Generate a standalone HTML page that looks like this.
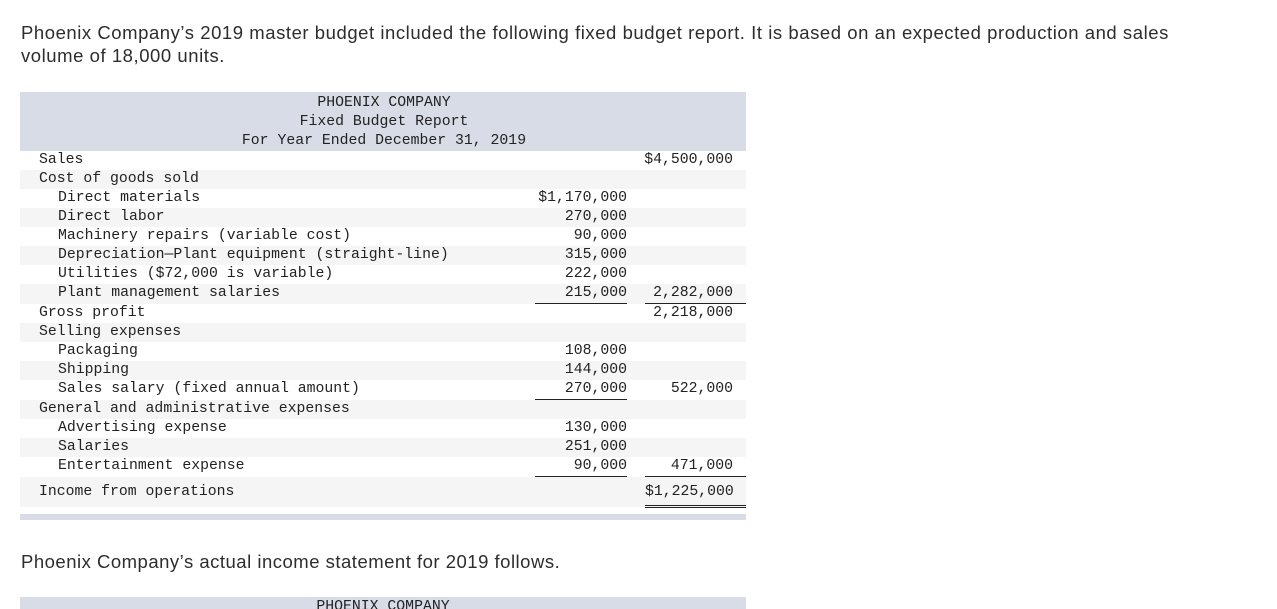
<!DOCTYPE html>
<html><head><meta charset="utf-8"><style>
body{margin:0;width:1277px;height:606px;overflow:hidden;background:#fff;font-family:"Liberation Sans",sans-serif;color:#2d2d2d;position:relative}
.p{position:absolute;left:21px;font-size:18.5px;line-height:23px;letter-spacing:0.55px}
.t{position:absolute;left:20px;width:726px;font-family:"Liberation Mono",monospace;font-size:14.8px;color:#222}
.hd{background:#d8dce6;height:59px;text-align:center;line-height:19px;padding-top:2px;box-sizing:border-box}
.hd div{position:relative;left:1px}
.r{position:relative;height:19px;line-height:19px}
.r.g{background:#f5f5f5}
.l{position:absolute;left:19px;white-space:pre}
.l.i{left:38px}
.c1{position:absolute;right:119px;width:92px;text-align:right}
.c2{position:absolute;right:13px;width:101px;text-align:right}
.c2e{position:absolute;right:0;padding-right:13px;width:88px;text-align:right}
.u1{border-bottom:1.5px solid #222}
.dbl{border-bottom:3px double #222}
</style></head><body>
<div class="p" style="top:21px">Phoenix Company’s 2019 master budget included the following fixed budget report. It is based on an expected production and sales<br>volume of 18,000 units.</div>
<div class="t" style="top:92px">
<div class="hd"><div>PHOENIX COMPANY</div><div>Fixed Budget Report</div><div>For Year Ended December 31, 2019</div></div>
<div class="r"><span class="l">Sales</span><span class="c2">$4,500,000</span></div>
<div class="r g"><span class="l">Cost of goods sold</span></div>
<div class="r"><span class="l i">Direct materials</span><span class="c1">$1,170,000</span></div>
<div class="r g"><span class="l i">Direct labor</span><span class="c1">270,000</span></div>
<div class="r"><span class="l i">Machinery repairs (variable cost)</span><span class="c1">90,000</span></div>
<div class="r g"><span class="l i">Depreciation—Plant equipment (straight-line)</span><span class="c1">315,000</span></div>
<div class="r"><span class="l i">Utilities ($72,000 is variable)</span><span class="c1">222,000</span></div>
<div class="r g" style="height:20px"><span class="l i">Plant management salaries</span><span class="c1 u1" style="height:19px">215,000</span><span class="c2e u1" style="height:19px">2,282,000</span></div>
<div class="r"><span class="l">Gross profit</span><span class="c2">2,218,000</span></div>
<div class="r g"><span class="l">Selling expenses</span></div>
<div class="r"><span class="l i">Packaging</span><span class="c1">108,000</span></div>
<div class="r g"><span class="l i">Shipping</span><span class="c1">144,000</span></div>
<div class="r" style="height:20px"><span class="l i">Sales salary (fixed annual amount)</span><span class="c1 u1" style="height:19px">270,000</span><span class="c2">522,000</span></div>
<div class="r g"><span class="l">General and administrative expenses</span></div>
<div class="r"><span class="l i">Advertising expense</span><span class="c1">130,000</span></div>
<div class="r g"><span class="l i">Salaries</span><span class="c1">251,000</span></div>
<div class="r"><span class="l i">Entertainment expense</span><span class="c1 u1" style="height:19px">90,000</span><span class="c2e u1" style="height:19px">471,000</span></div>
<div class="r g" style="height:30px;line-height:30px;margin-top:1px"><span class="l">Income from operations</span><span class="c2e dbl" style="height:28px">$1,225,000</span></div>
<div style="height:7px"></div>
<div style="height:6px;background:#d8dce6"></div>
</div>
<div class="p" style="top:550px;letter-spacing:0.5px">Phoenix Company’s actual income statement for 2019 follows.</div>
<div class="t" style="top:597px;height:12px;background:#d8dce6;overflow:hidden"><div style="text-align:center;line-height:19px;padding-top:1px">PHOENIX COMPANY</div></div>
</body></html>
